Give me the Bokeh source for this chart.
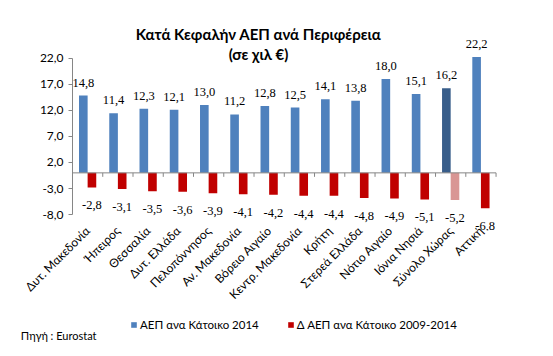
import math
from bokeh.plotting import figure
from bokeh.layouts import column
from bokeh.models import (Range1d, LinearAxis, FixedTicker, ColumnDataSource, LabelSet,
                          Label, Legend, LegendItem)
from bokeh.embed import file_html
from bokeh.resources import INLINE

regions = ["Δυτ. Μακεδονία", "Ήπειρος", "Θεσσαλία", "Δυτ. Ελλάδα", "Πελοπόννησος",
           "Αν. Μακεδονία", "Βόρειο Αιγαίο", "Κεντρ. Μακεδονία", "Κρήτη", "Στερεά Ελλάδα",
           "Νότιο Αιγαίο", "Ιόνια Νησιά", "Σύνολο Χώρας", "Αττική"]
gdp_2014 = [14.8, 11.4, 12.3, 12.1, 13.0, 11.2, 12.8, 12.5, 14.1, 13.8, 18.0, 15.1, 16.2, 22.2]
gdp_change = [-2.8, -3.1, -3.5, -3.6, -3.9, -4.1, -4.2, -4.4, -4.4, -4.8, -4.9, -5.1, -5.2, -6.8]
y_ticks = [-8, -3, 2, 7, 12, 17, 22]
highlight = "Σύνολο Χώρας"
source_text = "Πηγή : Eurostat"

FONT = "Lato"
BLUE, BLUE_H = "#4F81BD", "#385D8A"
RED, RED_H = "#C00000", "#D99694"
AXIS = "#868686"
BW = 0.285

n = len(regions)
centers = [i + 0.5 for i in range(n)]
fmt = lambda v: f"{v:.1f}".replace(".", ",")

src = ColumnDataSource(dict(
    xb=[c - BW / 2 for c in centers],
    xr=[c + BW / 2 for c in centers],
    top=gdp_2014,
    chg=gdp_change,
    cb=[BLUE_H if r == highlight else BLUE for r in regions],
    cr=[RED_H if r == highlight else RED for r in regions],
    tb=[fmt(v) for v in gdp_2014],
    tr=[fmt(v) for v in gdp_change],
))

# ---------------- main chart ----------------
p = figure(width=537, height=310, output_backend="svg", toolbar_location=None,
           x_range=Range1d(0, 15.37), y_range=Range1d(-11.04, 31.49),
           x_axis_location=None, y_axis_location=None,
           min_border_left=72, min_border_right=0, min_border_top=8, min_border_bottom=78)
p.outline_line_color = None
p.grid.visible = False
p.background_fill_color = "white"

ya = LinearAxis(ticker=FixedTicker(ticks=y_ticks), bounds=(y_ticks[0], y_ticks[-1]),
                major_label_overrides={v: fmt(v) for v in y_ticks})
ya.axis_line_color = AXIS
ya.major_tick_line_color = AXIS
ya.major_tick_out = 4
ya.major_tick_in = 0
ya.minor_tick_line_color = None
ya.major_label_text_font = FONT
ya.major_label_text_font_size = "12px"
ya.major_label_text_color = "#000000"
ya.major_label_standoff = 5
p.add_layout(ya, "left")

xa = LinearAxis(ticker=FixedTicker(ticks=centers),
                major_label_overrides={c: r for c, r in zip(centers, regions)})
xa.axis_line_color = None
xa.major_tick_line_color = None
xa.major_tick_out = 0
xa.major_tick_in = 0
xa.minor_tick_line_color = None
xa.minor_tick_out = 0
xa.major_label_orientation = math.pi / 4
xa.major_label_text_font = FONT
xa.major_label_text_font_size = "12px"
xa.major_label_text_color = "#000000"
xa.major_label_standoff = -2
p.add_layout(xa, "below")

rb = p.vbar(x="xb", width=BW, top="top", bottom=0, source=src, fill_color="cb", line_color=None)
rr = p.vbar(x="xr", width=BW, top=0, bottom="chg", source=src, fill_color="cr", line_color=None)

# zero axis line with category-boundary ticks
bounds = list(range(n + 1))
p.segment(x0=[0], x1=[n], y0=[0], y1=[0], line_color=AXIS, line_width=1)
p.segment(x0=bounds, x1=bounds, y0=[0] * len(bounds), y1=[-0.76] * len(bounds),
          line_color=AXIS, line_width=1)

p.add_layout(LabelSet(x="xb", y="top", text="tb", source=src, text_align="center",
                      text_baseline="middle", y_offset=13, text_font=FONT,
                      text_font_size="12.5px", text_color="#000000"))
p.add_layout(LabelSet(x="xr", y="chg", text="tr", source=src, text_align="center",
                      text_baseline="middle", y_offset=-18, text_font=FONT,
                      text_font_size="12.5px", text_color="#000000"))

p.add_layout(Label(x=186, y=197, x_units="screen", y_units="screen",
                   text="Κατά Κεφαλήν ΑΕΠ ανά Περιφέρεια", text_align="center",
                   text_baseline="middle", text_font=FONT, text_font_style="bold",
                   text_font_size="15px", text_color="#000000"))
p.add_layout(Label(x=186, y=177, x_units="screen", y_units="screen",
                   text="(σε χιλ €)", text_align="center",
                   text_baseline="middle", text_font=FONT, text_font_style="bold",
                   text_font_size="15px", text_color="#000000"))

# ---------------- footer: legend + source ----------------
f = figure(width=537, height=46, output_backend="svg", toolbar_location=None,
           x_range=Range1d(0, 537), y_range=Range1d(0, 46),
           x_axis_location=None, y_axis_location=None,
           min_border_left=0, min_border_right=0, min_border_top=0, min_border_bottom=0)
f.outline_line_color = None
f.grid.visible = False
fb = f.vbar(x="xb", width=BW, top="top", bottom=0, source=src, fill_color="cb",
            line_color=None, visible=False)
fr = f.vbar(x="xr", width=BW, top=0, bottom="chg", source=src, fill_color="cr",
            line_color=None, visible=False)

legend = Legend(items=[LegendItem(label="ΑΕΠ ανα Κάτοικο 2014", renderers=[fb], index=0),
                       LegendItem(label="Δ ΑΕΠ ανα Κάτοικο 2009-2014", renderers=[fr], index=0)],
                location=(58, 25), orientation="horizontal")
legend.padding = 0
legend.margin = 0
legend.border_line_color = None
legend.background_fill_alpha = 0
legend.inactive_fill_alpha = 0
legend.glyph_width = 7
legend.glyph_height = 7
legend.label_standoff = 3
legend.spacing = 28
legend.label_text_font = FONT
legend.label_text_font_size = "11.5px"
legend.label_text_color = "#000000"
f.add_layout(legend, "center")

# source note, drawn as the footer's left-axis label so it can sit left of the frame
sa = LinearAxis(ticker=FixedTicker(ticks=[21]), major_label_overrides={21: source_text})
sa.axis_line_color = None
sa.major_tick_line_color = None
sa.major_tick_out = 0
sa.major_tick_in = 0
sa.minor_tick_line_color = None
sa.minor_tick_out = 0
sa.major_label_standoff = -24
sa.major_label_text_font = FONT
sa.major_label_text_font_size = "11px"
sa.major_label_text_color = "#000000"
f.add_layout(sa, "left")

open("out.html", "w").write(file_html(column(p, f), INLINE))
